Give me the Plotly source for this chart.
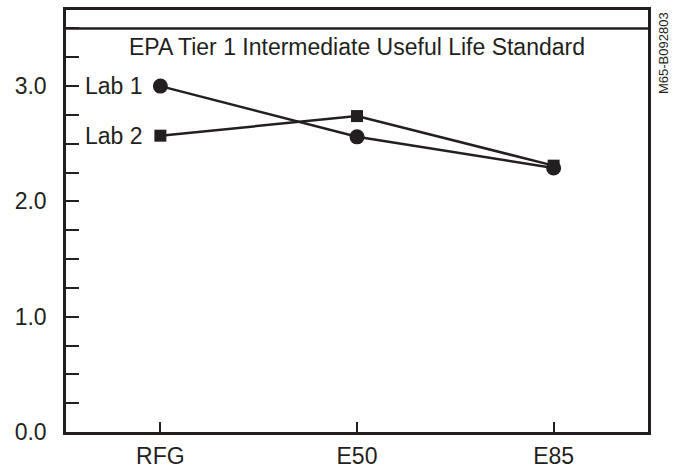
import plotly.graph_objects as go

categories = ["RFG", "E50", "E85"]
lab1 = [3.0, 2.56, 2.29]
lab2 = [2.57, 2.74, 2.31]
standard = 3.5
standard_label = "EPA Tier 1 Intermediate Useful Life Standard"
y_ticks = [0.0, 1.0, 2.0, 3.0]
y_tick_text = ["0.0", "1.0", "2.0", "3.0"]
side_code = "M65-B092803"

ink = "#231f20"
font = "Liberation Sans, Arial, sans-serif"
xpos = list(range(len(categories)))

fig = go.Figure()
fig.add_trace(go.Scatter(x=xpos, y=lab1, mode="lines+markers", name="Lab 1",
                         line=dict(color=ink, width=2.5),
                         marker=dict(symbol="circle", size=15, color=ink)))
fig.add_trace(go.Scatter(x=xpos, y=lab2, mode="lines+markers", name="Lab 2",
                         line=dict(color=ink, width=2.5),
                         marker=dict(symbol="square", size=12, color=ink)))

fig.add_shape(type="line", xref="paper", x0=0, x1=1, yref="y", y0=standard, y1=standard,
              line=dict(color=ink, width=2.5))

fig.add_annotation(xref="paper", x=0.5, yref="y", y=3.34, text=standard_label,
                   showarrow=False, font=dict(family=font, size=23, color=ink),
                   xanchor="center", yanchor="middle")
fig.add_annotation(x=xpos[0], y=lab1[0], text="Lab 1", showarrow=False, xanchor="right",
                   xshift=-15, font=dict(family=font, size=23, color=ink))
fig.add_annotation(x=xpos[0], y=lab2[0], text="Lab 2", showarrow=False, xanchor="right",
                   xshift=-15, font=dict(family=font, size=23, color=ink))
fig.add_annotation(xref="paper", x=1, xshift=15, yref="paper", y=1, text=side_code,
                   textangle=-90, showarrow=False, xanchor="center", yanchor="top",
                   font=dict(family=font, size=13, color=ink))

fig.update_xaxes(range=[-0.48, 2.48], tickvals=xpos, ticktext=categories,
                 ticks="inside", ticklen=10, tickwidth=2, tickcolor=ink,
                 showline=True, linewidth=2.5, linecolor=ink, mirror=True,
                 showgrid=False, zeroline=False, ticklabelstandoff=2,
                 tickfont=dict(family=font, size=23, color=ink))
fig.update_yaxes(range=[0, 3.66], tickvals=y_ticks, ticktext=y_tick_text,
                 ticks="inside", ticklen=13, tickwidth=2, tickcolor=ink,
                 minor=dict(dtick=0.25, tick0=0, ticks="inside", ticklen=13,
                            tickwidth=2, tickcolor=ink, showgrid=False),
                 showline=True, linewidth=2.5, linecolor=ink, mirror=True,
                 showgrid=False, zeroline=False, ticklabelstandoff=12,
                 tickfont=dict(family=font, size=23, color=ink))

fig.update_layout(width=680, height=469, showlegend=False,
                  margin=dict(l=66, r=32, t=10, b=37, autoexpand=False),
                  plot_bgcolor="white", paper_bgcolor="white")
fig.write_html("out.html", config={"displayModeBar": False},
               post_script="document.body.style.margin='0';document.body.style.overflow='hidden';")
